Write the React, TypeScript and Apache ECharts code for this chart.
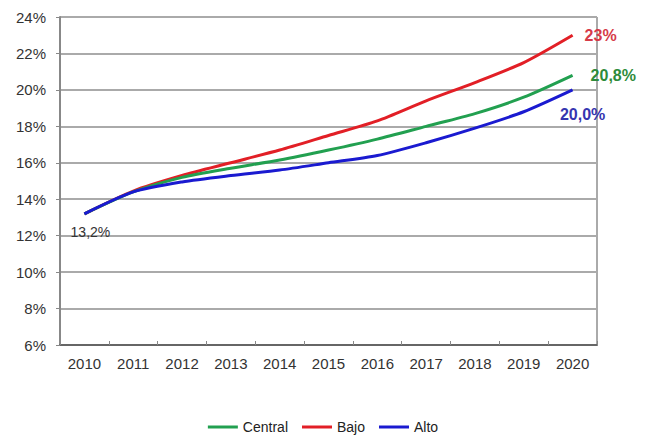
import React, { useEffect, useRef } from "react";
import * as echarts from "echarts";

const years = ["2010", "2011", "2012", "2013", "2014", "2015", "2016", "2017", "2018", "2019", "2020"];
const central = [13.2, 14.4, 15.2, 15.7, 16.15, 16.7, 17.3, 18.0, 18.7, 19.6, 20.8];
const bajo = [13.2, 14.45, 15.3, 16.0, 16.7, 17.5, 18.3, 19.4, 20.4, 21.5, 23.0];
const alto = [13.2, 14.4, 14.95, 15.3, 15.6, 16.0, 16.4, 17.1, 17.9, 18.8, 20.0];
const yTicks = [6, 8, 10, 12, 14, 16, 18, 20, 22, 24];

const fmtComma = (v: number) => v.toFixed(1).replace(".", ",") + "%";

export default function App() {
  const ref = useRef<HTMLDivElement>(null);
  useEffect(() => {
    if (!ref.current) return;
    const chart = echarts.init(ref.current, null, { renderer: "svg" });
    const font = "Liberation Sans, Arial, sans-serif";
    const last = years.length - 1;
    const mk = (arr: number[], endLabel: any, firstLabel?: any) =>
      arr.map((v, i) => {
        if (i === last) return { value: v, label: endLabel };
        if (i === 0 && firstLabel) return { value: v, label: firstLabel };
        return { value: v, label: { show: false } };
      });
    const common = {
      type: "line",
      smooth: 0.25,
      symbol: "circle",
      symbolSize: 0.01,
      showSymbol: true,
      showAllSymbol: true,
    };
    chart.setOption({
      animation: false,
      textStyle: { fontFamily: font },
      grid: { left: 60, right: 49, top: 17, bottom: 94, containLabel: false },
      legend: {
        bottom: 0,
        left: "center",
        itemWidth: 30,
        itemHeight: 3,
        itemGap: 14,
        icon: "rect",
        textStyle: { fontSize: 14, color: "#222", fontFamily: font },
        data: ["Central", "Bajo", "Alto"],
      },
      xAxis: {
        type: "category",
        data: years,
        boundaryGap: true,
        axisLine: { lineStyle: { color: "#666", width: 2 } },
        axisTick: { show: true, inside: true, length: 4, lineStyle: { color: "#888" } },
        axisLabel: { color: "#333", fontSize: 15, margin: 11, fontFamily: font },
        splitLine: { show: false },
      },
      yAxis: {
        type: "value",
        min: yTicks[0],
        max: yTicks[yTicks.length - 1],
        interval: 2,
        axisLine: { show: true, lineStyle: { color: "#888", width: 2 } },
        axisTick: { show: true, length: 4, lineStyle: { color: "#888" } },
        axisLabel: { color: "#333", fontSize: 15, margin: 14, formatter: (v: number) => v + "%", fontFamily: font },
        splitLine: { show: true, lineStyle: { color: "#aaa", width: 2 } },
      },
      graphic: [
        {
          type: "line",
          shape: { x1: 597, y1: 17, x2: 597, y2: 345 },
          style: { stroke: "#aaa", lineWidth: 2 },
        },
      ],
      series: [
        {
          ...common,
          name: "Central",
          z: 3,
          lineStyle: { width: 3, color: "#22a050" },
          itemStyle: { color: "#22a050" },
          data: mk(central, {
            show: true,
            position: "right",
            distance: 18,
            formatter: (p: any) => fmtComma(p.value),
            color: "#2e8b3a",
            fontWeight: "bold",
            fontSize: 16,
            fontFamily: font,
          }),
        },
        {
          ...common,
          name: "Bajo",
          z: 2,
          lineStyle: { width: 3, color: "#e21f26" },
          itemStyle: { color: "#e21f26" },
          data: mk(bajo, {
            show: true,
            position: "right",
            distance: 12,
            formatter: (p: any) => p.value + "%",
            color: "#d63a48",
            fontWeight: "bold",
            fontSize: 16,
            fontFamily: font,
          }),
        },
        {
          ...common,
          name: "Alto",
          z: 4,
          lineStyle: { width: 3, color: "#1a1ad0" },
          itemStyle: { color: "#1a1ad0" },
          data: mk(
            alto,
            {
              show: true,
              position: "bottom",
              offset: [10, 12],
              formatter: (p: any) => fmtComma(p.value),
              color: "#3535b0",
              fontWeight: "bold",
              fontSize: 16,
              fontFamily: font,
            },
            {
              show: true,
              position: "bottom",
              offset: [6, 6],
              formatter: (p: any) => fmtComma(p.value),
              color: "#333",
              fontSize: 14,
              fontFamily: font,
            }
          ),
        },
      ],
    });
    return () => chart.dispose();
  }, []);
  return <div ref={ref} style={{ width: 646, height: 439, position: "absolute", left: 0, top: 0 }} />;
}
